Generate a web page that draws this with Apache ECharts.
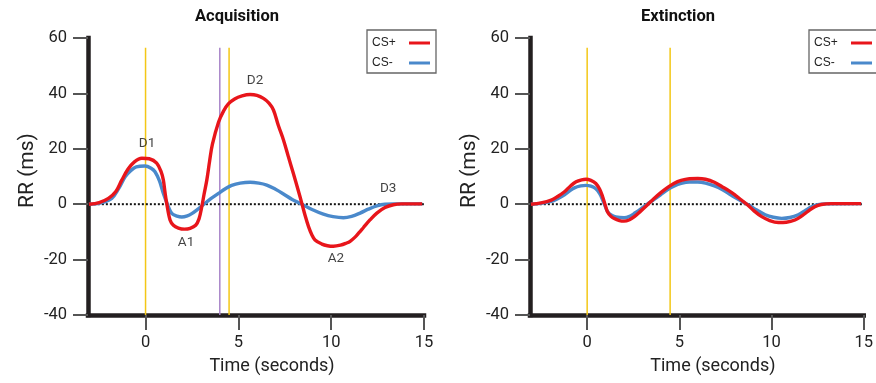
<!DOCTYPE html>
<html>
<head>
<meta charset="utf-8">
<script src="https://cdn.jsdelivr.net/npm/echarts@6/dist/echarts.min.js"></script>
<style>
html,body{margin:0;padding:0;background:#fff;}
#chart{width:876px;height:383px;}
</style>
</head>
<body>
<div id="chart"></div>
<script>
// ---- data ----
var panelTitles = ['Acquisition', 'Extinction'];
var seriesNames = ['CS+', 'CS-'];
var xTicks = [0, 5, 10, 15];
var xMin = -3.1, xMax = 15;
var yMin = -40, yMax = 60, yStep = 20;
var lineTop = 56.5;

var acqCSplus = [[-3.05,0],[-2.5,0.6],[-2.0,2.1],[-1.6,4.6],[-1.28,8.7],[-0.95,12.6],[-0.6,15.3],[-0.2,16.6],[0.2,16.4],[0.6,14.8],[0.85,11.5],[0.96,8.7],[1.05,4.2],[1.14,0.3],[1.32,-5.7],[1.5,-7.6],[1.77,-8.6],[2.1,-9.0],[2.4,-8.7],[2.7,-7.6],[2.88,-5.3],[3.03,-0.9],[3.15,3.5],[3.3,8.7],[3.45,15.5],[3.6,21.6],[3.93,29.6],[4.2,33.6],[4.46,36.2],[4.8,38.0],[5.2,39.1],[5.63,39.6],[6.0,39.3],[6.35,38.2],[6.65,36.5],[6.89,34],[7.15,28.5],[7.43,23.2],[7.7,17],[7.96,11.2],[8.2,5.6],[8.42,0.3],[8.6,-4.2],[8.78,-8.1],[8.95,-10.9],[9.13,-12.9],[9.5,-14.4],[9.8,-15.0],[10.12,-15.2],[10.5,-14.8],[10.8,-14.1],[11.02,-13.4],[11.3,-11.8],[11.5,-10.3],[11.73,-8.5],[12.1,-5.6],[12.46,-3.2],[12.9,-1.2],[13.35,-0.2],[13.8,0.1],[14.9,0.1]];
var acqCSminus = [[-3.05,0],[-2.4,0.5],[-1.82,2.1],[-1.45,5.6],[-1.1,9.9],[-0.8,12.1],[-0.5,13.5],[-0.03,13.8],[0.3,13.0],[0.51,11.7],[0.75,8.4],[0.96,3.9],[1.2,-0.4],[1.41,-3.3],[1.7,-4.3],[1.95,-4.6],[2.25,-4.2],[2.49,-3.4],[2.8,-1.9],[3.11,-0.2],[3.5,1.9],[3.93,3.9],[4.3,5.6],[4.64,6.8],[5.1,7.6],[5.63,7.9],[6.1,7.6],[6.53,6.9],[7.0,5.4],[7.43,3.7],[7.9,1.7],[8.42,0],[9.0,-2.0],[9.58,-3.6],[10.1,-4.5],[10.66,-4.9],[11.1,-4.4],[11.56,-3.2],[12.0,-1.8],[12.46,-0.6],[12.9,0],[13.35,0.1],[14.9,0.1]];
var extCSplus = [[-3.05,0],[-2.5,0.5],[-1.95,1.5],[-1.6,2.8],[-1.23,4.5],[-0.9,6.6],[-0.6,8.1],[-0.3,8.8],[-0.06,9.0],[0.2,8.6],[0.47,7.5],[0.68,5.4],[0.84,2.7],[0.98,-0.3],[1.1,-2.7],[1.28,-4.3],[1.47,-5.2],[1.75,-5.9],[2.0,-6.1],[2.3,-5.6],[2.54,-4.6],[2.9,-2.5],[3.26,-0.3],[3.6,1.9],[3.98,4.1],[4.35,6.0],[4.7,7.5],[5.1,8.6],[5.55,9.2],[6.0,9.3],[6.42,9.0],[6.9,7.9],[7.32,6.3],[7.7,4.8],[8.04,3.2],[8.35,1.6],[8.66,0],[9.05,-2.4],[9.47,-4.5],[9.9,-5.9],[10.37,-6.6],[10.8,-6.5],[11.27,-5.7],[11.65,-4.2],[11.99,-2.5],[12.35,-0.9],[12.7,-0.1],[13.24,0.2],[14.86,0.2]];
var extCSminus = [[-3.05,0],[-2.5,0.3],[-1.95,1.0],[-1.6,2.0],[-1.23,3.4],[-0.95,4.8],[-0.69,5.9],[-0.35,6.6],[-0.06,6.8],[0.2,6.5],[0.47,5.6],[0.68,3.8],[0.84,1.5],[0.98,-0.8],[1.1,-2.6],[1.3,-3.9],[1.55,-4.6],[2.0,-4.9],[2.3,-4.4],[2.54,-3.4],[2.9,-1.8],[3.26,0],[3.6,1.6],[3.98,3.4],[4.35,5.2],[4.7,6.5],[5.1,7.5],[5.55,8.0],[6.0,8.0],[6.42,7.6],[6.9,6.6],[7.32,5.3],[7.8,3.3],[8.22,1.7],[8.5,0.6],[8.76,-0.3],[9.2,-2.1],[9.66,-3.8],[10.1,-4.7],[10.55,-5.1],[11.0,-4.8],[11.45,-3.8],[11.8,-2.4],[12.17,-0.9],[12.5,-0.2],[12.9,0.1],[14.86,0.2]];

var acqYellowLines = [0, 4.5];
var acqPurpleLines = [4];
var extYellowLines = [0, 4.5];

var acqLabels = ['D1', 'D2', 'A1', 'A2', 'D3'];
var acqLabelX = [0.08, 5.9, 2.18, 10.26, 13.07];
var acqLabelY = [21.7, 44.5, -14, -19.8, 5.5];

// ---- styles ----
var RED = '#E8151B', BLUE = '#4A89CB', YELLOW = '#F3C716', PURPLE = '#A884C9', INK = '#222';
var FONT = 'Roboto, "Liberation Sans", sans-serif';

function vLines(xs, color, gridIdx) {
  return xs.map(function (x) {
    return {
      type: 'line', xAxisIndex: gridIdx, yAxisIndex: gridIdx, silent: true,
      data: [[x, yMin], [x, lineTop]], symbol: 'none', z: 1,
      lineStyle: { color: color, width: 1.5 }
    };
  });
}
function zeroLine(gridIdx) {
  return {
    type: 'line', xAxisIndex: gridIdx, yAxisIndex: gridIdx, silent: true,
    data: [[-3.0, 0], [xMax, 0]], symbol: 'none', z: 2,
    lineStyle: { color: '#111', width: 2, type: [2, 2] }
  };
}
function curve(name, data, color, gridIdx) {
  return {
    type: 'line', name: name, xAxisIndex: gridIdx, yAxisIndex: gridIdx,
    data: data, symbol: 'none', smooth: 0.35, z: 3,
    color: color, lineStyle: { color: color, width: 3.4 }
  };
}
function xAx(gridIdx) {
  return {
    type: 'value', gridIndex: gridIdx, min: xMin, max: xMax,
    name: 'Time (seconds)', nameLocation: 'middle', nameGap: 42,
    nameTextStyle: { fontFamily: FONT, fontSize: 18, color: INK, padding: [0, 0, 0, 32] },
    axisLine: { show: true, onZero: false, lineStyle: { color: '#231F20', width: 4.5, cap: 'square' } },
    axisTick: { show: true, customValues: xTicks, length: 15, lineStyle: { color: '#555', width: 2 } },
    axisLabel: { customValues: xTicks, margin: 19, fontFamily: FONT, fontSize: 16.5, color: INK },
    splitLine: { show: false }
  };
}
function yAx(gridIdx) {
  return {
    type: 'value', gridIndex: gridIdx, min: yMin, max: yMax, interval: yStep,
    name: 'RR (ms)', nameLocation: 'middle', nameGap: 50,
    nameTextStyle: { fontFamily: FONT, fontSize: 21, color: INK, padding: [0, 0, 0, 12] },
    axisLine: { show: true, onZero: false, lineStyle: { color: '#231F20', width: 4.5, cap: 'square' } },
    axisTick: { show: true, length: 15, lineStyle: { color: '#555', width: 2 } },
    axisLabel: { margin: 21, fontFamily: FONT, fontSize: 16.5, color: INK },
    splitLine: { show: false }
  };
}
function legend(left) {
  return {
    data: seriesNames, left: left, top: 30, orient: 'vertical', align: 'right',
    padding: [7, 6, 4, 5], itemGap: 8, itemWidth: 21, itemHeight: 3, icon: 'rect',
    borderColor: '#666', borderWidth: 1.3, selectedMode: false,
    formatter: '{a|{name}}',
    textStyle: { rich: { a: { width: 32, align: 'left', fontFamily: '"Liberation Sans", Arial, sans-serif', fontSize: 12, lineHeight: 14, color: INK } } }
  };
}

var series = [];
series = series.concat(vLines(acqYellowLines, YELLOW, 0), vLines(acqPurpleLines, PURPLE, 0), vLines(extYellowLines, YELLOW, 1));
series.push(zeroLine(0), zeroLine(1));
series.push(curve('CS-', acqCSminus, BLUE, 0), curve('CS+', acqCSplus, RED, 0));
series.push(curve('CS-', extCSminus, BLUE, 1), curve('CS+', extCSplus, RED, 1));
series.push({
  type: 'scatter', xAxisIndex: 0, yAxisIndex: 0, silent: true, symbolSize: 0, z: 4,
  data: acqLabels.map(function (t, i) { return { name: t, value: [acqLabelX[i], acqLabelY[i]] }; }),
  label: { show: true, position: 'inside', formatter: '{b}', fontFamily: FONT, fontSize: 13.5, color: '#111', textBorderWidth: 0 }
});

var chart = echarts.init(document.getElementById('chart'), null, { renderer: 'canvas' });
chart.setOption({
  animation: false,
  backgroundColor: '#fff',
  title: [
    { text: panelTitles[0], left: 195, top: 8, padding: 0, textStyle: { fontFamily: FONT, fontWeight: 'bold', fontSize: 16.5, color: '#111' } },
    { text: panelTitles[1], left: 641, top: 8, padding: 0, textStyle: { fontFamily: FONT, fontWeight: 'bold', fontSize: 16.5, color: '#111' } }
  ],
  legend: [legend(367), legend(809)],
  grid: [
    { left: 88, top: 38, width: 336, height: 277 },
    { left: 530, top: 38, width: 336, height: 277 }
  ],
  xAxis: [xAx(0), xAx(1)],
  yAxis: [yAx(0), yAx(1)],
  series: series
});
</script>
</body>
</html>
